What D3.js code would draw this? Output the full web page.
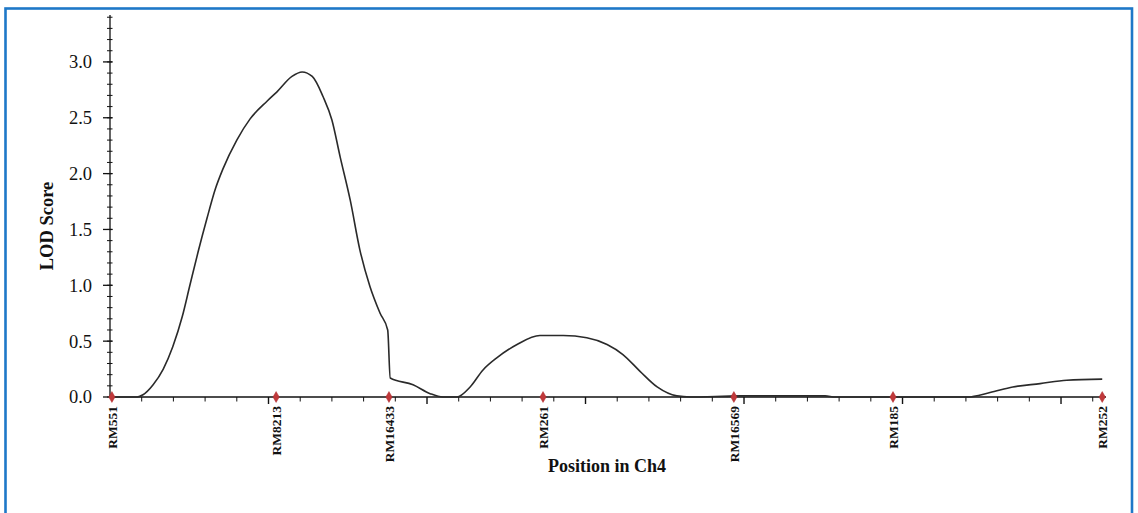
<!DOCTYPE html>
<html>
<head>
<meta charset="utf-8">
<script src="https://cdn.jsdelivr.net/npm/d3@7"></script>
<style>
  html, body { margin: 0; padding: 0; background: #fff; }
  svg { display: block; }
  text { font-family: "Liberation Serif", "Times New Roman", serif; fill: #111; }
</style>
</head>
<body>
<svg id="chart" width="1138" height="513"></svg>
<script>
// ---- data ----
const markerNames = ["RM551", "RM8213", "RM16433", "RM261", "RM16569", "RM185", "RM252"];
const markerPos   = [0.3, 26.2, 44.0, 68.3, 98.4, 123.5, 156.5];

const curvePos = [0, 4.3, 5.2, 6.8, 8.4, 9.9, 11.4, 12.6, 13.9, 15.3, 16.6, 17.8, 20.0, 22.1, 24.8, 26.3, 28.7, 30.3,
  31.9, 33.6, 35.0, 36.3, 37.9, 39.4, 41.0, 42.6, 43.8, 44.2, 47.8, 50.5, 52.5, 54.7, 56.8, 58.8, 61.0, 64.2,
  67.8, 71.5, 75.2, 78.4, 80.9, 83.6, 86.3, 89.4, 91.5, 99.4, 112.8, 114.4, 135.2, 138.8, 142.4, 146.7, 150.9, 156.5];
const curveLod = [0, 0, 0.02, 0.11, 0.25, 0.45, 0.72, 1.00, 1.30, 1.60, 1.86, 2.04, 2.30, 2.49, 2.65, 2.73, 2.87, 2.91,
  2.87, 2.69, 2.48, 2.15, 1.76, 1.32, 0.99, 0.75, 0.60, 0.17, 0.11, 0.03, 0, 0, 0.09, 0.24, 0.35, 0.47,
  0.55, 0.55, 0.53, 0.47, 0.38, 0.23, 0.09, 0.01, 0, 0.01, 0.01, 0, 0, 0.04, 0.09, 0.12, 0.15, 0.16];

const yTickLabels = [0, 0.5, 1.0, 1.5, 2.0, 2.5, 3.0];
const xTitle = "Position in Ch4";
const yTitle = "LOD Score";

// ---- layout ----
const svg = d3.select("#chart");
const x = d3.scaleLinear().domain([0, 157]).range([110, 1105.4]);
const y = d3.scaleLinear().domain([0, 3.42]).range([397, 15]);

// border
svg.append("rect").attr("x", 5.5).attr("y", 8.5).attr("width", 1126.5).attr("height", 520)
  .attr("fill", "none").attr("stroke", "#1e78c8").attr("stroke-width", 2.6);

// y axis
const gy = svg.append("g");
gy.append("line").attr("x1", 110).attr("x2", 110).attr("y1", y.range()[1]).attr("y2", 397)
  .attr("stroke", "#111").attr("stroke-width", 1.3);
const yMinor = d3.range(0, 35).map(i => i / 10);
gy.selectAll(".ymin").data(yMinor).join("line")
  .attr("x1", 107).attr("x2", 112.5)
  .attr("y1", d => y(d)).attr("y2", d => y(d))
  .attr("stroke", "#111").attr("stroke-width", 1);
gy.selectAll(".ymaj").data(yTickLabels).join("line")
  .attr("x1", 103).attr("x2", 112.5)
  .attr("y1", d => y(d)).attr("y2", d => y(d))
  .attr("stroke", "#111").attr("stroke-width", 1.3);
gy.selectAll(".ylab").data(yTickLabels).join("text")
  .attr("x", 92).attr("y", d => y(d)).attr("dy", "0.35em")
  .attr("text-anchor", "end").attr("font-size", 18.5)
  .text(d => d3.format(".1f")(d));

// x axis
const gx = svg.append("g");
gx.append("line").attr("x1", 110).attr("x2", 1106).attr("y1", 397).attr("y2", 397)
  .attr("stroke", "#111").attr("stroke-width", 1.3);
const xTicks = d3.range(5, 157, 5);
gx.selectAll(".xt").data(xTicks).join("line")
  .attr("x1", d => x(d)).attr("x2", d => x(d))
  .attr("y1", 397).attr("y2", d => d % 25 === 0 ? 404 : 401.5)
  .attr("stroke", "#111").attr("stroke-width", d => d % 25 === 0 ? 1.4 : 1);

// curve
const line = d3.line().x((d, i) => x(curvePos[i])).y(d => y(d)).curve(d3.curveMonotoneX);
svg.append("path").datum(curveLod).attr("d", line)
  .attr("fill", "none").attr("stroke", "#2a2a2a").attr("stroke-width", 1.6);

// markers
const sym = d3.symbol().type(d3.symbolDiamond).size(34);
svg.selectAll(".mk").data(markerPos).join("path")
  .attr("d", sym).attr("transform", d => `translate(${x(d)},397)`)
  .attr("fill", "#c0393b").attr("stroke", "#b02a2c").attr("stroke-width", 0.5);

// marker labels
svg.selectAll(".ml").data(markerNames).join("text")
  .attr("transform", (d, i) => `translate(${x(markerPos[i]) + 4.8},406) rotate(-90)`)
  .attr("text-anchor", "end").attr("font-size", 13.5).attr("font-weight", "bold")
  .text(d => d);

// titles
svg.append("text").attr("x", 607).attr("y", 472).attr("text-anchor", "middle")
  .attr("font-size", 18).attr("font-weight", "bold").text(xTitle);
svg.append("text").attr("transform", "translate(53,226) rotate(-90)").attr("text-anchor", "middle")
  .attr("font-size", 18.5).attr("font-weight", "bold").text(yTitle);
</script>
</body>
</html>
